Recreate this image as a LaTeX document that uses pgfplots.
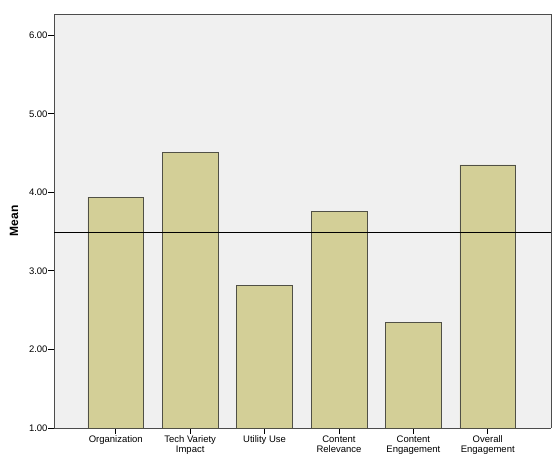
\documentclass[border=0pt]{standalone}
\usepackage{fontspec}
\setmainfont{Liberation Sans}
\usepackage{pgfplots}
\pgfplotsset{compat=1.18}
\definecolor{barfill}{RGB}{211,207,151}
\definecolor{bgfill}{RGB}{240,240,240}
\definecolor{edge}{RGB}{80,80,70}
\begin{document}
\begin{tikzpicture}[x=1pt,y=1pt]
\begin{axis}[
  scale only axis,
  width=497pt, height=414pt,
  xmin=-0.83, xmax=5.85,
  ymin=1, ymax=6.27,
  axis background/.style={fill=bgfill},
  axis line style={draw=black!70, line width=0.8pt},
  axis x line*=bottom, axis y line*=left,
  xtick={0,1,2,3,4,5},
  xticklabels={Organization, Tech Variety\\Impact, Utility Use, Content\\Relevance, Content\\Engagement, Overall\\Engagement},
  xticklabel style={align=center, font=\fontsize{9.5}{10}\selectfont, yshift=2pt},
  ytick={1,2,3,4,5,6},
  yticklabel style={font=\fontsize{9.5}{10}\selectfont, xshift=3pt},
  /pgf/number format/assume math mode=true,
  yticklabel={\pgfmathprintnumber[fixed, fixed zerofill, precision=2]{\tick}},
  tick align=outside,
  major tick length=6pt,
  tick style={black, line width=0.8pt},
  ylabel={\textbf{Mean}},
  ylabel style={font=\fontsize{12}{13}\selectfont, yshift=4pt},
  clip=false,
]
\addplot[ybar, bar width=0.75, fill=barfill, draw=edge, line width=0.6pt, bar shift=0pt] coordinates {
 (0,3.94) (1,4.51) (2,2.81) (3,3.76) (4,2.34) (5,4.35)
};
\addplot[black, line width=0.6pt, no marks] coordinates {(-0.83,3.49) (5.85,3.49)};
\draw[black!70, line width=0.8pt] (rel axis cs:0,1) -- (rel axis cs:1,1) -- (rel axis cs:1,0);
\path (rel axis cs:-0.1087,-0.0966) rectangle (rel axis cs:1.0181,1.0338);
\end{axis}
\end{tikzpicture}
\end{document}
